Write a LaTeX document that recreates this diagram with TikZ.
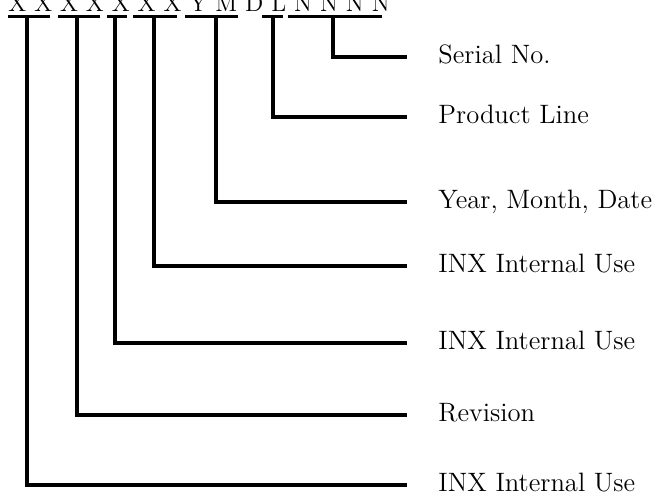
\documentclass[tikz,border=0pt]{standalone}
\usepackage{tikz}

\begin{document}
\begin{tikzpicture}[
  x=0.5pt, y=-0.5pt,
  bar/.style={line width=1.8pt},
  lbl/.style={anchor=base west, inner sep=0pt, font=\fontsize{13.3}{16}\selectfont},
  code/.style={anchor=base west, inner sep=0pt, font=\fontsize{12.2}{14}\selectfont}
]
  \useasboundingbox (0,0) rectangle (655,496);

  \node[code] (pn) at (8,12) {X X X X X X X Y M D L N N N N};

  % vertical x / bar left / bar right / line y / label / name
  \foreach \vx/\bl/\br/\ly/\txt/\nm in {
      333/288/382/57/{Serial No.}/sn,
      273/262/283/117/{Product Line}/pl,
      216/185/238/202/{Year, Month, Date}/ymd,
      154/133/177/266/{INX Internal Use}/inxa,
      115/107/127/343/{INX Internal Use}/inxb,
      77/58/100/415/{Revision}/rev,
      27/8/50/485/{INX Internal Use}/inxc}{
    \coordinate (\nm-l) at (\bl,16.5);
    \coordinate (\nm-r) at (\br,16.5);
    \coordinate (\nm-t) at (\vx,16.5);
    \coordinate (\nm-c) at (\vx,\ly);
    \coordinate (\nm-e) at (407,\ly);
    \node[lbl] (\nm) at (438,\ly+7) {\txt};
    \draw[bar] (\nm-l) -- (\nm-r);
    \draw[bar] (\nm-t) -- (\nm-c) -- (\nm-e);
  }
\end{tikzpicture}
\end{document}
